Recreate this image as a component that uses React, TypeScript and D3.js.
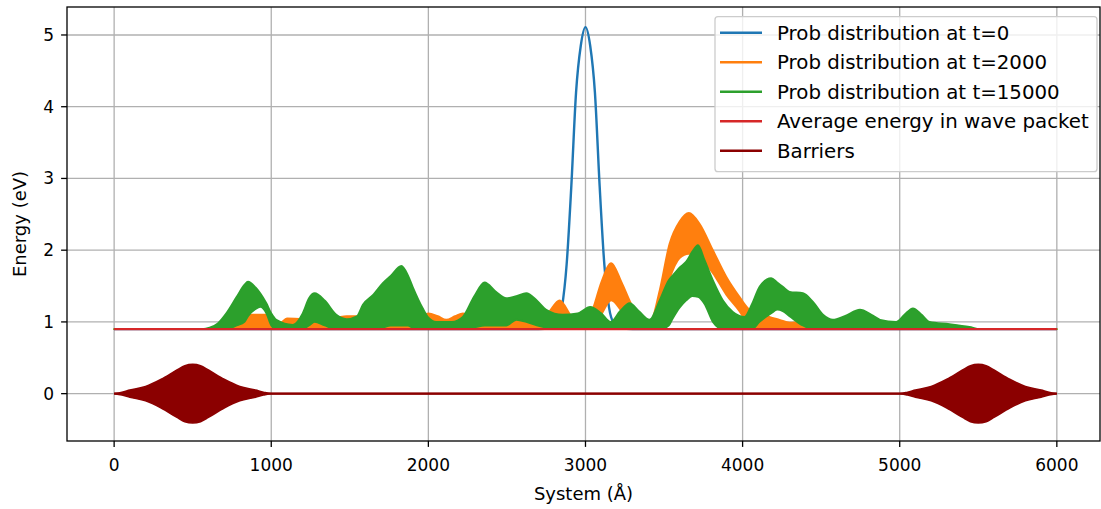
import React from "react";
import * as d3 from "d3";

// ---- data ----
const xTicks = [0, 1000, 2000, 3000, 4000, 5000, 6000];
const yTicks = [0, 1, 2, 3, 4, 5];

const legendLabels = [
  "Prob distribution at t=0",
  "Prob distribution at t=2000",
  "Prob distribution at t=15000",
  "Average energy in wave packet",
  "Barriers",
];
const colors = ["#1f77b4", "#ff7f0e", "#2ca02c", "#d62728", "#8b0000"];

// t=0 : smooth gaussian packet
const blueX = [0, 2700, 2780, 2820, 2850, 2880, 2910, 2940, 2970, 3000, 3030, 3060, 3090, 3120, 3150, 3180, 3220, 3300, 6000];
const blueY = [0.9, 0.9, 0.91, 0.98, 1.2, 1.8, 2.9, 4.2, 4.85, 5.11, 4.85, 4.2, 2.9, 1.8, 1.2, 0.98, 0.91, 0.9, 0.9];

// t=2000 : rapidly oscillating, given as upper / lower envelopes
const orangeX = [0, 700, 755, 825, 880, 969, 1053, 1100, 1200, 1327, 1414, 1480, 1545, 1650, 1800, 1950, 2000, 2060, 2114, 2170, 2220, 2300, 2400, 2560, 2700, 2760, 2835, 2910, 2980, 3045, 3100, 3164, 3230, 3300, 3350, 3408, 3472, 3535, 3599, 3658, 3726, 3811, 3896, 3980, 4044, 4129, 4235, 4300, 4365, 4450, 4520, 6000];
const orangeUpper = [0.9, 0.9, 0.93, 1.08, 1.1, 1.1, 0.98, 1.05, 1.04, 1.05, 1.06, 1.08, 1.08, 1.04, 1.02, 1.06, 1.12, 1.08, 1.03, 1.08, 1.12, 1.05, 1.02, 1.04, 1.04, 1.12, 1.3, 1.08, 0.96, 1.17, 1.55, 1.82, 1.55, 1.21, 1.05, 0.98, 1.44, 2.09, 2.4, 2.52, 2.37, 2.0, 1.63, 1.35, 1.17, 1.1, 1.03, 0.99, 1.0, 0.92, 0.9, 0.9];
const orangeLower = [0.9, 0.9, 0.9, 0.9, 0.9, 0.9, 0.9, 0.9, 0.9, 0.9, 0.9, 0.9, 0.9, 0.9, 0.9, 0.9, 0.9, 0.9, 0.9, 0.9, 0.9, 0.9, 0.9, 0.9, 0.9, 0.92, 0.95, 0.92, 0.9, 0.9, 1.1, 1.3, 1.15, 0.95, 0.9, 0.9, 1.1, 1.6, 1.89, 1.95, 1.9, 1.68, 1.38, 1.15, 0.95, 0.9, 0.9, 0.9, 0.9, 0.9, 0.9, 0.9];

// t=15000
const greenX = [0, 560, 608, 660, 714, 780, 830, 852, 900, 930, 969, 1000, 1032, 1138, 1200, 1240, 1276, 1340, 1414, 1480, 1545, 1583, 1650, 1710, 1760, 1828, 1870, 1900, 1964, 1996, 2050, 2150, 2219, 2290, 2358, 2430, 2496, 2560, 2623, 2690, 2750, 2855, 2950, 3030, 3100, 3160, 3220, 3281, 3340, 3408, 3472, 3530, 3556, 3600, 3641, 3680, 3716, 3758, 3811, 3875, 3938, 4012, 4060, 4108, 4182, 4220, 4256, 4299, 4384, 4448, 4512, 4575, 4650, 4747, 4820, 4875, 4977, 5030, 5084, 5140, 5190, 5317, 5444, 5510, 6000];
const greenUpper = [0.9, 0.9, 0.92, 0.98, 1.12, 1.35, 1.52, 1.56, 1.48, 1.4, 1.26, 1.12, 1.03, 0.96, 1.12, 1.33, 1.4, 1.3, 1.1, 1.04, 1.08, 1.24, 1.38, 1.54, 1.64, 1.78, 1.65, 1.49, 1.19, 1.07, 1.0, 1.0, 1.07, 1.35, 1.55, 1.42, 1.33, 1.36, 1.4, 1.3, 1.17, 1.1, 1.12, 1.21, 1.12, 1.0, 1.15, 1.26, 1.15, 1.03, 1.3, 1.58, 1.65, 1.76, 1.84, 1.98, 2.07, 1.86, 1.58, 1.3, 1.14, 1.07, 1.25, 1.49, 1.61, 1.55, 1.49, 1.42, 1.4, 1.28, 1.1, 1.03, 1.08, 1.17, 1.1, 1.03, 1.0, 1.1, 1.19, 1.1, 1.0, 0.97, 0.93, 0.9, 0.9];
const greenLower = [0.9, 0.9, 0.9, 0.9, 0.9, 0.95, 1.0, 1.08, 1.18, 1.21, 1.12, 0.95, 0.9, 0.9, 0.9, 0.95, 1.0, 0.95, 0.9, 0.9, 0.9, 0.9, 0.9, 0.92, 0.95, 0.95, 0.95, 0.92, 0.9, 0.9, 0.9, 0.9, 0.9, 0.92, 0.95, 0.95, 0.95, 1.03, 1.0, 0.95, 0.92, 0.9, 0.9, 0.92, 0.9, 0.9, 0.9, 0.92, 0.9, 0.9, 0.9, 0.95, 1.05, 1.2, 1.3, 1.36, 1.35, 1.25, 1.0, 0.9, 0.9, 0.9, 0.9, 1.0, 1.12, 1.17, 1.15, 1.08, 0.95, 0.9, 0.9, 0.9, 0.9, 0.92, 0.9, 0.9, 0.9, 0.9, 0.92, 0.9, 0.9, 0.9, 0.9, 0.9, 0.9];

// average energy
const avgX = [0, 6000];
const avgY = [0.9, 0.9];

// barriers: oscillating potential, envelope amplitude
const barrierX = [0, 50, 100, 200, 300, 400, 450, 500, 550, 600, 700, 800, 900, 950, 1000, 5000, 5050, 5100, 5200, 5300, 5400, 5450, 5500, 5550, 5600, 5700, 5800, 5900, 5950, 6000];
const barrierAmp = [0.0, 0.02, 0.05, 0.1, 0.2, 0.33, 0.39, 0.41, 0.39, 0.33, 0.2, 0.1, 0.05, 0.02, 0.0, 0.0, 0.02, 0.05, 0.1, 0.2, 0.33, 0.39, 0.41, 0.39, 0.33, 0.2, 0.1, 0.05, 0.02, 0.0];

// ---- layout ----
const W = 1101;
const H = 509;
const left = 67, right = 1100, top = 7, bottom = 441;
const FONT = "DejaVu Sans, sans-serif";
const FS_TICK = 17;
const FS_LABEL = 18;
const FS_LEG = 19.8;
const LW = 2.4;
const TICK = 5.9;

export default function App() {
  const x = d3.scaleLinear().domain([-300, 6300]).range([left, left + (6600 * (1057.2 - 114.5)) / 6000]);
  const y = d3.scaleLinear().domain([-0.66, 5.39]).range([bottom, top]);

  const line = d3
    .line<[number, number]>()
    .x((d) => x(d[0]))
    .y((d) => y(d[1]))
    .curve(d3.curveMonotoneX);

  const band = (xs: number[], lo: number[], hi: number[]) =>
    d3
      .area<number>()
      .x((i) => x(xs[i]))
      .y0((i) => y(lo[i]))
      .y1((i) => y(hi[i]))
      .curve(d3.curveMonotoneX)(xs.map((_, i) => i)) || "";

  const bluePath = line(blueX.map((v, i) => [v, blueY[i]])) || "";
  const orangePath = band(orangeX, orangeLower, orangeUpper);
  const greenPath = band(greenX, greenLower, greenUpper);
  const avgPath = line(avgX.map((v, i) => [v, avgY[i]])) || "";
  const barrierPath = band(
    barrierX,
    barrierAmp.map((a) => -a),
    barrierAmp
  );
  const zeroLine = line([
    [barrierX[0], 0],
    [barrierX[barrierX.length - 1], 0],
  ]) || "";

  const legX = 715, legY = 16.7, legW = 382, legH = 155;
  const rowY = (i: number) => 32.7 + i * 29.5;

  return (
    <svg width={W} height={H} style={{ display: "block", position: "absolute", left: 0, top: 0 }} fontFamily={FONT}>
      <rect x={0} y={0} width={W} height={H} fill="#fff" />
      <defs>
        <clipPath id="ax">
          <rect x={left} y={top} width={right - left} height={bottom - top} />
        </clipPath>
      </defs>
      {/* grid */}
      <g stroke="#b0b0b0" strokeWidth={1.3}>
        {xTicks.map((t) => (
          <line key={"gx" + t} x1={x(t)} x2={x(t)} y1={top} y2={bottom} />
        ))}
        {yTicks.map((t) => (
          <line key={"gy" + t} x1={left} x2={right} y1={y(t)} y2={y(t)} />
        ))}
      </g>
      <g clipPath="url(#ax)">
        <path d={bluePath} fill="none" stroke={colors[0]} strokeWidth={LW} />
        <path d={orangePath} fill={colors[1]} stroke={colors[1]} strokeWidth={1.8} strokeLinejoin="round" />
        <path d={greenPath} fill={colors[2]} stroke={colors[2]} strokeWidth={1.8} strokeLinejoin="round" />
        <path d={avgPath} fill="none" stroke={colors[3]} strokeWidth={LW} />
        <path d={barrierPath} fill={colors[4]} stroke={colors[4]} strokeWidth={1.6} />
        <path d={zeroLine} fill="none" stroke={colors[4]} strokeWidth={LW} />
      </g>
      {/* spines */}
      <rect x={left} y={top} width={right - left} height={bottom - top} fill="none" stroke="#000" strokeWidth={1.3} />
      {/* x ticks */}
      <g>
        {xTicks.map((t) => (
          <g key={"xt" + t}>
            <line x1={x(t)} x2={x(t)} y1={bottom} y2={bottom + TICK} stroke="#000" strokeWidth={1.3} />
            <text x={x(t)} y={471} textAnchor="middle" fontSize={FS_TICK} fill="#000">
              {t}
            </text>
          </g>
        ))}
      </g>
      {/* y ticks */}
      <g>
        {yTicks.map((t) => (
          <g key={"yt" + t}>
            <line x1={left - TICK} x2={left} y1={y(t)} y2={y(t)} stroke="#000" strokeWidth={1.3} />
            <text x={left - 2 * TICK - 1} y={y(t) + 6} textAnchor="end" fontSize={FS_TICK} fill="#000">
              {t}
            </text>
          </g>
        ))}
      </g>
      <text x={(left + right) / 2} y={500} textAnchor="middle" fontSize={FS_LABEL} fill="#000">
        System (Å)
      </text>
      <text transform={`translate(26,${(top + bottom) / 2}) rotate(-90)`} textAnchor="middle" fontSize={FS_LABEL} fill="#000">
        Energy (eV)
      </text>
      {/* legend */}
      <rect x={legX} y={legY} width={legW} height={legH} rx={3} ry={3} fill="#fff" fillOpacity={0.8} stroke="#cccccc" strokeWidth={1.3} />
      {legendLabels.map((lab, i) => (
        <g key={"lg" + i}>
          <line x1={720} x2={762} y1={rowY(i)} y2={rowY(i)} stroke={colors[i]} strokeWidth={LW} />
          <text x={777} y={rowY(i) + 7} fontSize={FS_LEG} fill="#000">
            {lab}
          </text>
        </g>
      ))}
    </svg>
  );
}
